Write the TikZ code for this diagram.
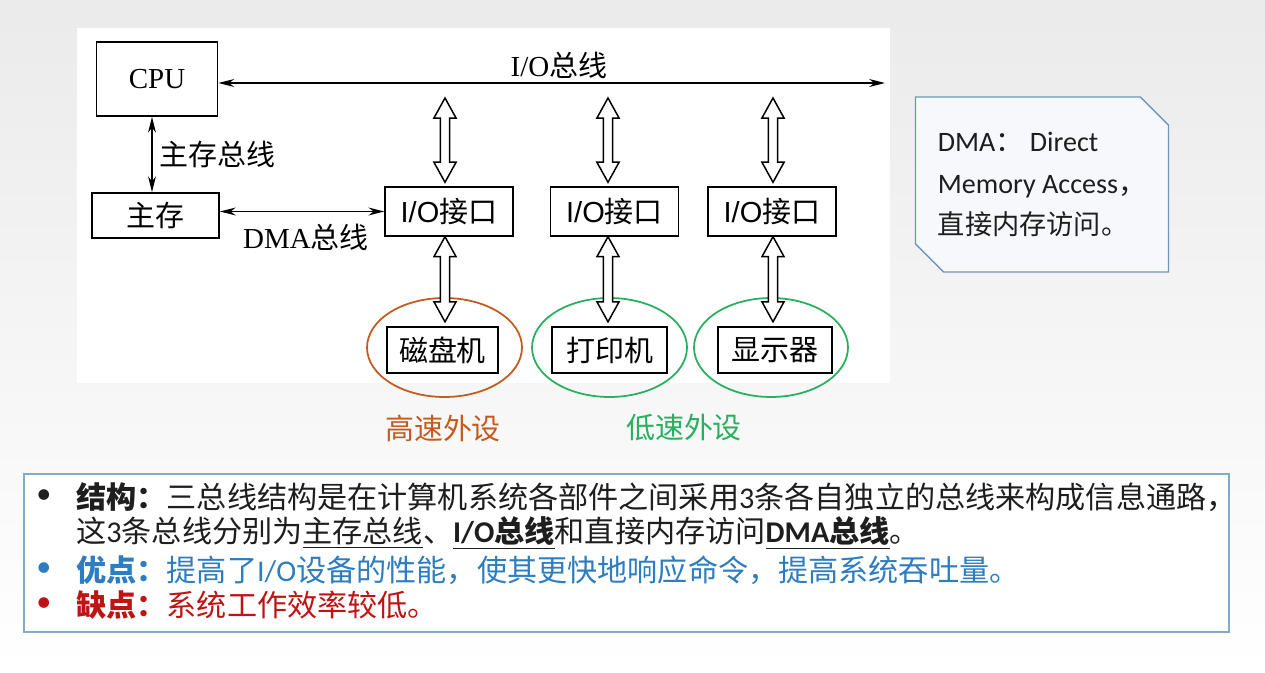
\documentclass[tikz,border=0pt]{standalone}
\usepackage{fontspec}
\setmainfont{Liberation Serif}
\newfontfamily\zhfont{Noto Sans CJK SC}
\newfontfamily\calib{Carlito}
\newfontfamily\arialf{Liberation Sans}
\usetikzlibrary{arrows.meta,calc,positioning,shapes.geometric,shapes.misc}

\definecolor{hsorange}{RGB}{197,90,30}
\definecolor{lsgreen}{RGB}{40,175,95}
\definecolor{noteblue}{RGB}{110,150,190}
\definecolor{notefill}{RGB}{246,248,251}
\definecolor{sumblue}{RGB}{130,170,205}
\definecolor{advblue}{RGB}{46,125,192}
\definecolor{disred}{RGB}{192,20,20}
\definecolor{txt}{RGB}{30,30,30}

\begin{document}
\begin{tikzpicture}[x=0.02cm, y=-0.02cm, >={Stealth[length=9pt,width=4.5pt]},
    box/.style={draw, line width=1pt, fill=white, inner sep=0pt,
      font=\fontsize{16.5}{19}\selectfont},
    devbox/.style={box, line width=1.3pt, minimum height=0.92cm},
    lbl/.style={inner sep=0pt, font=\fontsize{16.5}{19}\selectfont},
    ring/.style={ellipse, draw, line width=1pt, inner sep=0pt,
      minimum height=1.98cm},
    sumline/.style={anchor=west, inner sep=0pt, text=txt,
      font=\zhfont\fontsize{17.15}{20}\selectfont},
    hollow/.style={draw, line width=0.85pt, fill=white, to path={
      let \p1=(\tikztostart), \p2=(\tikztotarget) in
      (\x1,\y1) -- (\x1+6.3pt,\y1-11.4pt) -- (\x1+2.6pt,\y1-11.4pt)
      -- (\x1+2.6pt,\y2+11.4pt) -- (\x1+6.3pt,\y2+11.4pt) -- (\x1,\y2)
      -- (\x1-6.3pt,\y2+11.4pt) -- (\x1-2.6pt,\y2+11.4pt)
      -- (\x1-2.6pt,\y1-11.4pt) -- (\x1-6.3pt,\y1-11.4pt) -- cycle}}]
  \useasboundingbox (0,0) rectangle (1265,673);
  \shade[top color=black!8, bottom color=white] (0,0) rectangle (1265,673);
  \fill[white] (77,28) rectangle (890,383);

  % processor, memory and the three buses
  \node[box, minimum width=2.42cm, minimum height=1.48cm] (cpu) at (157,79) {CPU};
  \node[box, minimum width=2.54cm, minimum height=0.9cm] (mem) at (155.5,215.5) {\zhfont 主存};
  \coordinate (busR) at (885,83);
  \coordinate (mbus) at (152,0);
  \draw[<->, line width=1pt] (cpu.east |- busR) -- (busR);
  \draw[<->, line width=1pt] (mbus |- cpu.south) -- (mbus |- mem.north);
  \node[lbl] (lbiobus) at (559,65) {I/O{\zhfont 总线}};
  \node[lbl, anchor=west] (lbmbus) at (159,154) {\zhfont 主存总线};

  % interfaces
  \foreach \n/\x in {1/449, 2/614.5, 3/772}
    \node[box, line width=0.8pt, minimum width=2.56cm, minimum height=0.98cm]
      (io\n) at (\x,211.5) {{\arialf I/O}{\zhfont 接口}};
  \draw[<->, line width=1pt] (mem.east |- io1.west) -- (io1.west);
  \node[lbl] (lbdma) at (306,237.5) {DMA{\zhfont 总线}};

  % peripherals
  \node[ring, draw=hsorange, minimum width=3.1cm] (ell1) at (444.5,347.5) {};
  \node[ring, draw=lsgreen, minimum width=3.1cm] (ell2) at (609.5,347.5) {};
  \node[ring, draw=lsgreen, minimum width=3.08cm] (ell3) at (771,347.5) {};
  \node[devbox, minimum width=2.22cm] (dev1) at (442.5,350) {\zhfont 磁盘机};
  \node[devbox, minimum width=2.3cm] (dev2) at (609.5,350) {\zhfont 打印机};
  \node[devbox, minimum width=2.28cm] (dev3) at (775,350) {\zhfont 显示器};

  % hollow double arrows
  \foreach \n/\x in {1/445, 2/608, 3/773} {
    \coordinate (b\n) at (\x,98);
    \draw[hollow] (b\n) to ([yshift=2.3pt]io\n.north);
    \draw[hollow] (b\n |- io\n.south) to ([yshift=2.3pt]dev\n.north);
  }
  \node[lbl, text=hsorange] (lbfast) at (443,428) {\zhfont 高速外设};
  \node[lbl, text=lsgreen] (lbslow) at (684,428) {\zhfont 低速外设};

  % note
  \node[chamfered rectangle, chamfered rectangle corners={north east,south west},
    chamfered rectangle xsep=0.28cm, chamfered rectangle ysep=0.28cm,
    draw=noteblue, fill=notefill, line width=0.8pt,
    minimum width=5.06cm, minimum height=3.5cm, align=left, text=txt,
    font=\calib\fontsize{16}{23.5}\selectfont] (note) at (1042,184.5)
    {DMA{\zhfont ：} Direct\\Memory Access{\zhfont ，}\\
     {\zhfont\fontsize{15.5}{23.5}\selectfont 直接内存访问。}};

  % summary
  \node[draw=sumblue, fill=white, line width=0.8pt, minimum width=24.1cm,
    minimum height=3.16cm] (sum) at (626.5,553) {};
  \node[sumline] (bul1) at (36,497) {\calib •};
  \node[sumline, text=advblue] (bul3) at (36,570) {\calib •};
  \node[sumline, text=disred] (bul4) at (36,605) {\calib •};
  \node[sumline] (line1) at (76,497)
    {{\bfseries 结构：}三总线结构是在计算机系统各部件之间采用{\calib 3}条各自独立的总线来构成信息通路，};
  \node[sumline] (line2) at (76,533)
    {这{\calib 3}条总线分别为\underline{主存总线}、\underline{\bfseries{\calib I/O}总线}和直接内存访问\underline{\bfseries{\calib DMA}总线}。};
  \node[sumline, text=advblue] (line3) at (76,570)
    {{\bfseries 优点：}提高了{\calib I/O}设备的性能，使其更快地响应命令，提高系统吞吐量。};
  \node[sumline, text=disred] (line4) at (76,605)
    {{\bfseries 缺点：}系统工作效率较低。};
\end{tikzpicture}
\end{document}
